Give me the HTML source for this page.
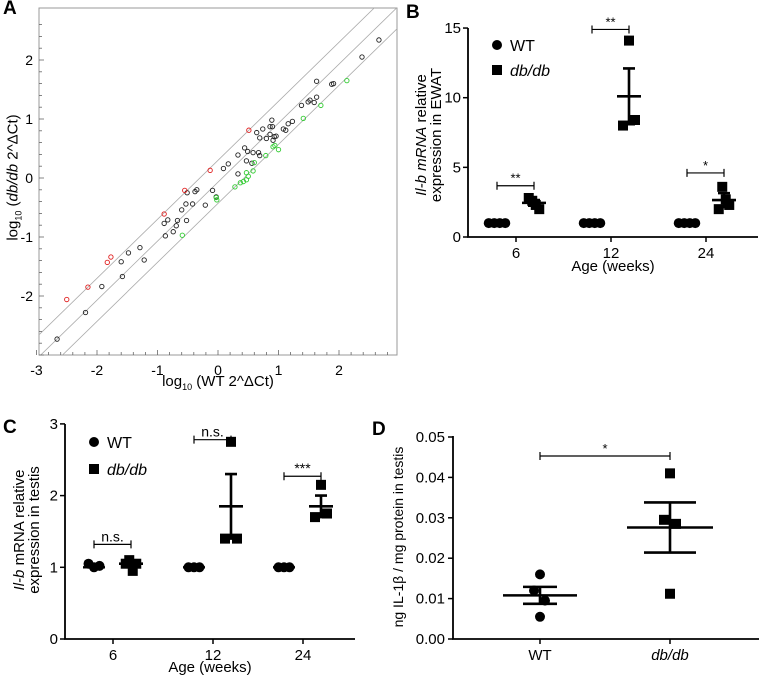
<!DOCTYPE html>
<html><head><meta charset="utf-8"><style>
body{margin:0;background:#fff}
svg{display:block;font-family:"Liberation Sans",Arial,sans-serif}
</style></head><body>
<svg id="fig" width="759" height="676" viewBox="0 0 759 676" xmlns="http://www.w3.org/2000/svg"></svg>
<script>
// ---- Panel A data ----
const aBlackX=[2.66,2.38,1.63,1.91,1.88,1.63,1.52,1.49,1.59,1.38,1.23,1.16,1.08,1.12,0.89,0.86,0.90,0.74,0.64,0.69,0.80,0.93,0.96,0.91,0.86,0.44,0.49,0.58,0.67,0.69,0.47,0.56,0.33,0.17,0.09,0.33,-0.09,-0.35,-0.38,-0.51,-0.03,-0.21,-0.42,-0.53,-0.60,-0.52,-0.67,-0.83,-0.89,-0.69,-0.74,-0.87,-1.29,-1.48,-1.60,-1.22,-1.58,-1.92,-2.19,-2.66];
const aBlackY=[2.34,2.05,1.64,1.60,1.59,1.37,1.32,1.29,1.28,1.23,0.96,0.92,0.83,0.81,0.98,0.87,0.87,0.83,0.77,0.68,0.67,0.70,0.71,0.64,0.74,0.51,0.45,0.43,0.43,0.38,0.29,0.25,0.39,0.24,0.16,0.07,-0.21,-0.20,-0.23,-0.25,-0.32,-0.46,-0.44,-0.44,-0.54,-0.72,-0.72,-0.71,-0.77,-0.81,-0.91,-0.98,-1.18,-1.27,-1.42,-1.39,-1.67,-1.84,-2.28,-2.73];
const aRedX=[0.51,-0.13,-0.55,-0.89,-1.77,-1.83,-2.15,-2.50];
const aRedY=[0.81,0.13,-0.21,-0.61,-1.34,-1.43,-1.85,-2.06];
const aGreenX=[2.13,1.70,1.41,1.00,0.79,0.91,0.94,0.60,0.58,0.47,0.50,0.47,0.42,0.37,0.28,-0.02,-0.03,-0.59];
const aGreenY=[1.65,1.23,1.01,0.48,0.38,0.53,0.55,0.26,0.12,0.09,0.03,-0.03,-0.06,-0.08,-0.15,-0.37,-0.33,-0.97];
const aLineOffsets=[0.30,-0.07,-0.43];
const aXTicks=[-3,-2,-1,0,1,2];
const aYTicks=[-2,-1,0,1,2];
// ---- Panel B data ----
const bCats=["6","12","24"];
const bWT=[[1,1,1,1],[1,1,1,1],[1,1,1,1]];
const bDB=[[2.8,2.6,2.3,2.0],[8.0,14.1,8.4],[2.0,3.6,2.7,2.3]];
const bDBMean=[2.45,10.1,2.65];
const bDBSem=[0.2,2.0,0.5];
const bSig=["**","**","*"];
const bSigY=[3.68,14.9,4.6];
const bYTicks=[0,5,10,15];
// ---- Panel C data ----
const cCats=["6","12","24"];
const cWT=[[1.05,1.0,1.02],[1,1,1],[1,1,1]];
const cDB=[[1.05,1.1,0.95,1.05],[1.4,2.75,1.4],[1.7,2.15,1.75]];
const cDBMean=[1.05,1.85,1.85];
const cDBSem=[0.04,0.45,0.15];
const cSig=["n.s.","n.s.","***"];
const cSigY=[1.32,2.78,2.27];
const cYTicks=[0,1,2,3];
// ---- Panel D data ----
const dCats=["WT","db/db"];
const dWT=[0.016,0.012,0.0095,0.0055];
const dDB=[0.041,0.0295,0.0285,0.0112];
const dMeans=[0.0108,0.0276];
const dSems=[0.0021,0.0062];
const dYTicks=["0.00","0.01","0.02","0.03","0.04","0.05"];

const NS="http://www.w3.org/2000/svg";
const svg=document.getElementById('fig');
function mk(tag,attrs,parent){const e=document.createElementNS(NS,tag);for(const k in attrs)e.setAttribute(k,attrs[k]);(parent||svg).appendChild(e);return e;}
function txt(s,attrs,parent){const e=mk('text',attrs,parent);e.textContent=s;return e;}

// ================= Panel A =================
const gA=mk('g',{});


const aX=v=>218+v*60.5, aY=v=>178-v*59;
const ax0=39,ax1=397,ay0=8,ay1=355;
const clip=mk('clipPath',{id:'clipA'},gA);mk('rect',{x:ax0,y:ay0,width:ax1-ax0,height:ay1-ay0},clip);
const box=mk('rect',{x:ax0,y:ay0,width:ax1-ax0,height:ay1-ay0,fill:'none',stroke:'#999','stroke-width':1},gA);


aLineOffsets.forEach(o=>{
  const l=mk('line',{x1:aX(-3.2),y1:aY(-3.2+o),x2:aX(3.2),y2:aY(3.2+o),stroke:'#aaa','stroke-width':0.8,'clip-path':'url(#clipA)'},gA);
  
  
});
for(let v=-3;v<=2.9;v+=0.2){mk('line',{x1:aX(v),y1:ay1,x2:aX(v),y2:ay1-(Math.abs(v-Math.round(v))<0.01?5:3),stroke:'#666','stroke-width':0.8},gA);}
for(let v=-3;v<=2.8;v+=0.2){mk('line',{x1:ax0,y1:aY(v),x2:ax0+(Math.abs(v-Math.round(v))<0.01?5:3),y2:aY(v),stroke:'#666','stroke-width':0.8},gA);}
aXTicks.forEach(t=>{const e=txt(String(t),{x:aX(t),y:375,'font-size':14,'text-anchor':'middle'},gA);
  
  });
aYTicks.forEach(t=>{const e=txt(String(t),{x:33,y:aY(t)+5,'font-size':14,'text-anchor':'end'},gA);
  
  });
function aPts(xs,ys,col,name){xs.forEach((x,i)=>{const c=mk('circle',{cx:aX(x),cy:aY(ys[i]),r:2.2,fill:'none',stroke:col,'stroke-width':0.9},gA);
  
  });}
aPts(aBlackX,aBlackY,'#222','gene-point');
aPts(aRedX,aRedY,'#e02020','upregulated-gene-point');
aPts(aGreenX,aGreenY,'#33cc33','downregulated-gene-point');
// ================= group plot helper =================
function groupPlot(o){
  const g=mk('g',{});
  
  
  const Y=v=>o.y0-v*o.k;
  const ax=mk('path',{d:`M${o.xl},${o.yTop} L${o.xl},${o.y0} L${o.xr},${o.y0}`,fill:'none',stroke:'#000','stroke-width':1.8},g);
  
  
  o.yTicks.forEach(t=>{mk('line',{x1:o.xl-5,y1:Y(+t),x2:o.xl,y2:Y(+t),stroke:'#000','stroke-width':1.5},g);
    const e=txt(String(t),{x:o.xl-7,y:Y(+t)+5,'font-size':15,'text-anchor':'end'},g);
    
    });
  return {g,Y};
}
function circ(g,x,y,r){const c=mk('circle',{cx:x,cy:y,r:r,fill:'#000'},g);
  
  }
function sq(g,x,y,s){const r=mk('rect',{x:x-s/2,y:y-s/2,width:s,height:s,fill:'#000'},g);
  
  }
function meanSem(g,x,Y,m,s,hw,cw){
  const p=mk('path',{d:`M${x-hw},${Y(m)} H${x+hw} M${x},${Y(m+s)} V${Y(m-s)} M${x-cw},${Y(m+s)} H${x+cw} M${x-cw},${Y(m-s)} H${x+cw}`,stroke:'#000','stroke-width':2.6,fill:'none'},g);
  
  
}
function bracket(g,x1,x2,y,label,fs){
  const p=mk('path',{d:`M${x1},${y-4} V${y+4} M${x1},${y} H${x2} M${x2},${y-4} V${y+4}`,stroke:'#000','stroke-width':1.2,fill:'none'},g);
  
  
  const t=txt(label,{x:(x1+x2)/2,y:y-3,'font-size':fs,'text-anchor':'middle'},g);
  
  
}
function jitter(n,sp){const a=[];for(let i=0;i<n;i++)a.push((i-(n-1)/2)*sp);return a;}
function legend(g,x,y1,y2){
  circ(g,x,y1,5);txt('WT',{x:x+13,y:y1+6,'font-size':16},g);
  sq(g,x,y2,10);txt('db/db',{x:x+13,y:y2+6,'font-size':16,'font-style':'italic'},g);
}
function catPanel(o,cats,wt,db,mean,sem,sig,sigY,fsSig){
  const P=groupPlot(o);const g=P.g,Y=P.Y;
  cats.forEach((c,i)=>{
    const cx=o.cx[i];
    mk('line',{x1:cx,y1:o.y0,x2:cx,y2:o.y0+5,stroke:'#000','stroke-width':1.5},g);
    const t=txt(c,{x:cx,y:o.y0+21,'font-size':15,'text-anchor':'middle'},g);
    
    
    const wx=cx-19, dx=cx+18;
    const jw=jitter(wt[i].length,5.5);wt[i].forEach((v,j)=>circ(g,wx+jw[j],Y(v),5));
    const jd=jitter(db[i].length,db[i].length>3?3.5:6);db[i].forEach((v,j)=>sq(g,dx+jd[j],Y(v),10));
    mk('line',{x1:wx-11,y1:Y(1),x2:wx+11,y2:Y(1),stroke:'#000','stroke-width':2.4},g);
    meanSem(g,dx,Y,mean[i],sem[i],12,6);
    bracket(g,wx,dx,Y(sigY[i]),sig[i],fsSig);
  });
  return g;
}
// ================= Panel B =================
const gB=catPanel({name:'panel-b-ewat',xl:468,xr:758,y0:237,yTop:28,k:13.93,yTicks:bYTicks,cx:[516,611,706]},bCats,bWT,bDB,bDBMean,bDBSem,bSig,bSigY,13);
legend(gB,497,45,70);
// ================= Panel C =================
const gC=catPanel({name:'panel-c-testis',xl:65,xr:355,y0:639,yTop:424,k:71.7,yTicks:cYTicks,cx:[113,213,303]},cCats,cWT,cDB,cDBMean,cDBSem,cSig,cSigY,14);
legend(gC,94,442,469);
// ================= Panel D =================
const PD=groupPlot({name:'panel-d-protein',xl:453,xr:759,y0:639,yTop:436,k:4040,yTicks:[]});
const gD=PD.g,YD=PD.Y;
dYTicks.forEach(t=>{mk('line',{x1:448,y1:YD(+t),x2:453,y2:YD(+t),stroke:'#000','stroke-width':1.5},gD);
  const e=txt(t,{x:445,y:YD(+t)+5,'font-size':15,'text-anchor':'end'},gD);
  
  });
const dCx=[540,670];
dCats.forEach((c,i)=>{mk('line',{x1:dCx[i],y1:639,x2:dCx[i],y2:644,stroke:'#000','stroke-width':1.5},gD);
  const t=txt(c,{x:dCx[i],y:660,'font-size':15,'text-anchor':'middle','font-style':i?'italic':'normal'},gD);
  
  });
const dWJ=[0,-6,5,0],dDJ=[0,-6,6,0];
dWT.forEach((v,j)=>circ(gD,dCx[0]+dWJ[j],YD(v),5));
dDB.forEach((v,j)=>sq(gD,dCx[1]+dDJ[j],YD(v),10));
meanSem(gD,dCx[0],YD,dMeans[0],dSems[0],37,17);
meanSem(gD,dCx[1],YD,dMeans[1],dSems[1],43,26);
bracket(gD,dCx[0],dCx[1],YD(0.0453),'*',13);
</script>
<div style="position:absolute;left:0;top:0;width:759px;height:676px;pointer-events:none;font-family:'Liberation Sans',Arial,sans-serif">
  <div style="position:absolute;left:3px;top:-2px;font-weight:bold;font-size:19px">A</div>
  <div style="position:absolute;left:406px;top:2px;font-weight:bold;font-size:19px">B</div>
  <div style="position:absolute;left:3px;top:417px;font-weight:bold;font-size:19px">C</div>
  <div style="position:absolute;left:372px;top:419px;font-weight:bold;font-size:19px">D</div>
  <div style="position:absolute;left:118px;top:373px;width:200px;text-align:center;font-size:15px">log<sub style="font-size:9px">10</sub> (WT 2^ΔCt)</div>
  <div style="position:absolute;left:-86px;top:168px;width:200px;text-align:center;font-size:15px;transform:rotate(-90deg)">log<sub style="font-size:9px">10</sub> (<i>db/db</i> 2^ΔCt)</div>
  <div style="position:absolute;left:513px;top:258px;width:200px;text-align:center;font-size:15px">Age (weeks)</div>
  <div style="position:absolute;left:329px;top:120px;width:200px;text-align:center;font-size:15px;line-height:15px;transform:rotate(-90deg)"><i>Il-b mRNA</i> relative<br>expression in EWAT</div>
  <div style="position:absolute;left:110px;top:659px;width:200px;text-align:center;font-size:15px">Age (weeks)</div>
  <div style="position:absolute;left:-73px;top:515px;width:200px;text-align:center;font-size:15px;line-height:15px;transform:rotate(-90deg)"><i>Il-b</i> mRNA relative<br>expression in testis</div>
  <div style="position:absolute;left:278px;top:529px;width:240px;text-align:center;font-size:14px;transform:rotate(-90deg)">ng IL-1β / mg protein in testis</div>
</div>
</body></html>
